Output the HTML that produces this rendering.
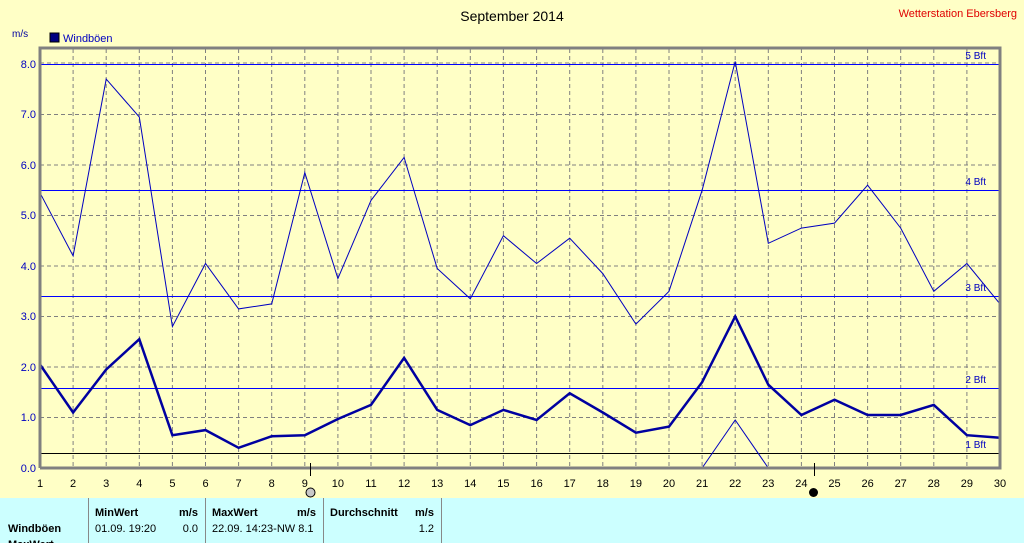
<!DOCTYPE html>
<html><head><meta charset="utf-8"><style>
body{margin:0;width:1024px;height:543px;overflow:hidden;background:#ffffc6;font-family:"Liberation Sans",sans-serif}
svg{position:absolute;left:0;top:0}
</style></head><body>
<svg width="1024" height="543" viewBox="0 0 1024 543" font-family="Liberation Sans, sans-serif">
<rect width="1024" height="543" fill="#ffffc6"/>
<text x="512" y="21" font-size="14" text-anchor="middle" fill="#000">September 2014</text>
<text x="1017" y="17" font-size="11" text-anchor="end" fill="#e00000">Wetterstation Ebersberg</text>
<text x="12" y="37" font-size="10" fill="#0000a0">m/s</text>
<rect x="50" y="33" width="9" height="9" fill="#000080" stroke="#000" stroke-width="1"/>
<text x="63" y="42" font-size="11" fill="#0000c0">Windböen</text>
<g stroke="#808080" stroke-dasharray="4,3" stroke-width="1">
<path d="M73.1 49V468M106.2 49V468M139.3 49V468M172.4 49V468M205.5 49V468M238.6 49V468M271.7 49V468M304.8 49V468M337.9 49V468M371 49V468M404.1 49V468M437.2 49V468M470.3 49V468M503.4 49V468M536.6 49V468M569.7 49V468M602.8 49V468M635.9 49V468M669 49V468M702.1 49V468M735.2 49V468M768.3 49V468M801.4 49V468M834.5 49V468M867.6 49V468M900.7 49V468M933.8 49V468M966.9 49V468"/>
<path d="M40 114.5H1000M40 165H1000M40 215.5H1000M40 266H1000M40 316.5H1000M40 367H1000M40 417.5H1000M40 63H1000"/>
</g>
<g stroke="#0000ff" stroke-width="1">
<path d="M40 64.5H1000M40 190.5H1000M40 296.5H1000M40 388.5H1000"/>
</g>
<path d="M40 453.5H1000" stroke="#000" stroke-width="1"/>
<g font-size="10" fill="#0000c0" text-anchor="end">
<text x="986" y="59">5 Bft</text><text x="986" y="185">4 Bft</text><text x="986" y="291">3 Bft</text><text x="986" y="383">2 Bft</text><text x="986" y="448">1 Bft</text>
</g>
<polyline fill="none" stroke="#0000c0" stroke-width="1" points="40,192.8 73.1,255.9 106.2,79.1 139.3,117 172.4,326.6 205.5,263.5 238.6,308.9 271.7,303.9 304.8,172.6 337.9,278.6 371,200.4 404.1,157.4 437.2,268.5 470.3,298.8 503.4,235.7 536.6,263.5 569.7,238.2 602.8,273.6 635.9,324.1 669,291.3 702.1,190.3 735.2,61.5 768.3,243.3 801.4,228.1 834.5,223.1 867.6,185.2 900.7,228.1 933.8,291.3 966.9,263.5 1000,303.9"/>
<polyline fill="none" stroke="#0000a0" stroke-width="2.5" points="40,364.5 73.1,412.5 106.2,369.5 139.3,339.2 172.4,435.2 205.5,430.1 238.6,447.8 271.7,436.2 304.8,435.2 337.9,419 371,404.9 404.1,357.9 437.2,409.9 470.3,425.1 503.4,409.9 536.6,420 569.7,393.3 602.8,412.5 635.9,432.7 669,426.6 702.1,382.2 735.2,316.5 768.3,384.7 801.4,415 834.5,399.8 867.6,415 900.7,415 933.8,404.9 966.9,435.2 1000,437.7"/>
<polyline fill="none" stroke="#0000c0" stroke-width="1" points="702.1,468 735.2,420 768.3,468"/>
<path d="M40 468V48H1000V468H40" fill="none" stroke="#808080" stroke-width="3"/>
<g font-size="11" fill="#0000c0" text-anchor="end">
<text x="36" y="68">8.0</text><text x="36" y="118">7.0</text><text x="36" y="169">6.0</text><text x="36" y="219">5.0</text><text x="36" y="270">4.0</text><text x="36" y="320">3.0</text><text x="36" y="371">2.0</text><text x="36" y="421">1.0</text><text x="36" y="472">0.0</text>
</g>
<g font-size="11" fill="#000" text-anchor="middle">
<text x="40" y="487">1</text><text x="73.1" y="487">2</text><text x="106.2" y="487">3</text><text x="139.3" y="487">4</text><text x="172.4" y="487">5</text><text x="205.5" y="487">6</text><text x="238.6" y="487">7</text><text x="271.7" y="487">8</text><text x="304.8" y="487">9</text><text x="337.9" y="487">10</text><text x="371" y="487">11</text><text x="404.1" y="487">12</text><text x="437.2" y="487">13</text><text x="470.3" y="487">14</text><text x="503.4" y="487">15</text><text x="536.6" y="487">16</text><text x="569.7" y="487">17</text><text x="602.8" y="487">18</text><text x="635.9" y="487">19</text><text x="669" y="487">20</text><text x="702.1" y="487">21</text><text x="735.2" y="487">22</text><text x="768.3" y="487">23</text><text x="801.4" y="487">24</text><text x="834.5" y="487">25</text><text x="867.6" y="487">26</text><text x="900.7" y="487">27</text><text x="933.8" y="487">28</text><text x="966.9" y="487">29</text><text x="1000" y="487">30</text>
</g>
<path d="M310.5 463V476M814.5 463V476" stroke="#000" stroke-width="1"/>
<circle cx="310.5" cy="492.5" r="4.5" fill="#c8c8c8" stroke="#000"/>
<circle cx="813.5" cy="492.5" r="4.5" fill="#000"/>
<rect x="0" y="498" width="1024" height="45" fill="#ccffff"/>
<path d="M88.5 498V543M205.5 498V543M323.5 498V543M441.5 498V543" stroke="#888" stroke-width="1"/>
<g font-size="11" fill="#000">
<text x="8" y="532" font-weight="bold">Windböen</text>
<text x="8" y="548" font-weight="bold">MaxWert</text>
<text x="95" y="516" font-weight="bold">MinWert</text><text x="198" y="516" font-weight="bold" text-anchor="end">m/s</text>
<text x="95" y="532">01.09.  19:20</text><text x="198" y="532" text-anchor="end">0.0</text>
<text x="212" y="516" font-weight="bold">MaxWert</text><text x="316" y="516" font-weight="bold" text-anchor="end">m/s</text>
<text x="212" y="532">22.09.  14:23-NW 8.1</text>
<text x="330" y="516" font-weight="bold">Durchschnitt</text><text x="434" y="516" font-weight="bold" text-anchor="end">m/s</text>
<text x="434" y="532" text-anchor="end">1.2</text>
</g>
</svg>
</body></html>
